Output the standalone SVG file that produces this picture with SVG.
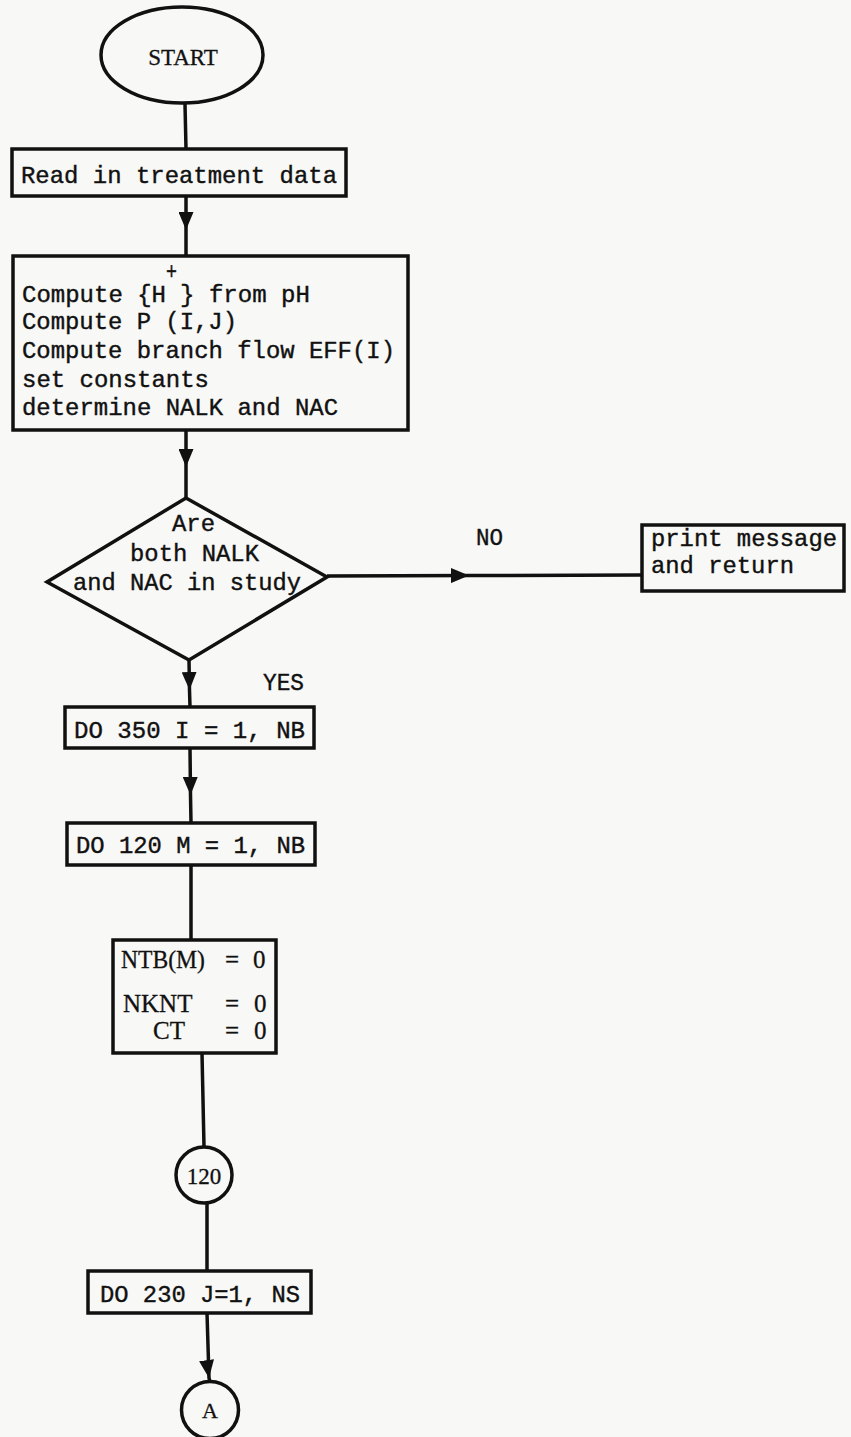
<svg xmlns="http://www.w3.org/2000/svg" width="851" height="1437" viewBox="0 0 851 1437">
<style>
.shape{fill:none;stroke:#111;stroke-width:3.5}
.conn{fill:none;stroke:#111;stroke-width:3.5}
.tw{font-family:"Liberation Mono","Courier New",monospace;font-size:24px;fill:#111;stroke:#111;stroke-width:0.4}
.sf{font-family:"Liberation Serif","Times New Roman",serif;fill:#111;stroke:#111;stroke-width:0.3}
</style>
<defs>
<marker id="ah" viewBox="0 0 18 15" refX="18" refY="7.5" markerWidth="18" markerHeight="15" markerUnits="userSpaceOnUse" orient="auto">
<path d="M0,0 L18,7.5 L0,15 z" fill="#111"/>
</marker>
</defs>
<rect x="0" y="0" width="851" height="1437" fill="#f8f8f6"/>

<g id="connectors">
<path class="conn" d="M185,104 L186,149"/>
<path class="conn" d="M186,196 L186,230 L186,256" marker-mid="url(#ah)"/>
<path class="conn" d="M186,430 L186,467 L186,498" marker-mid="url(#ah)"/>
<path class="conn" d="M327,576 L469,575.5 L642,575" marker-mid="url(#ah)"/>
<path class="conn" d="M189,660 L189.5,690 L190,707" marker-mid="url(#ah)"/>
<path class="conn" d="M190,748 L190.5,795 L191,823" marker-mid="url(#ah)"/>
<path class="conn" d="M191,865 L191,940"/>
<path class="conn" d="M202,1053 L204,1147"/>
<path class="conn" d="M207,1203 L207,1271"/>
<path class="conn" d="M207,1313 L209,1378 L210,1382" marker-mid="url(#ah)"/>
<text class="tw" x="476" y="545" textLength="27" lengthAdjust="spacingAndGlyphs">NO</text>
<text class="tw" x="263" y="690" textLength="41" lengthAdjust="spacingAndGlyphs">YES</text>
</g>

<g id="start">
<ellipse class="shape" cx="182" cy="55" rx="81" ry="48"/>
<text class="sf" x="183" y="65" font-size="23" text-anchor="middle">START</text>
</g>

<g id="read">
<rect class="shape" x="12" y="149" width="334" height="47"/>
<text class="tw" x="21" y="183" textLength="316" lengthAdjust="spacingAndGlyphs">Read in treatment data</text>
</g>

<g id="compute">
<rect class="shape" x="13" y="256" width="395" height="174"/>
<text class="tw" x="22" y="302" textLength="144" lengthAdjust="spacingAndGlyphs">Compute {H</text>
<text class="tw" x="166" y="279" font-size="18" textLength="11" lengthAdjust="spacingAndGlyphs">+</text>
<text class="tw" x="180" y="302" textLength="130" lengthAdjust="spacingAndGlyphs">} from pH</text>
<text class="tw" x="22" y="329" textLength="215" lengthAdjust="spacingAndGlyphs">Compute P (I,J)</text>
<text class="tw" x="22" y="358" textLength="373" lengthAdjust="spacingAndGlyphs">Compute branch flow EFF(I)</text>
<text class="tw" x="22" y="387" textLength="187" lengthAdjust="spacingAndGlyphs">set constants</text>
<text class="tw" x="22" y="415" textLength="316" lengthAdjust="spacingAndGlyphs">determine NALK and NAC</text>
</g>

<g id="decision">
<polygon class="shape" points="186,498 327,577 189,660 47,582"/>
<text class="tw" x="172" y="531" textLength="43" lengthAdjust="spacingAndGlyphs">Are</text>
<text class="tw" x="130" y="561" textLength="129" lengthAdjust="spacingAndGlyphs">both NALK</text>
<text class="tw" x="73" y="590" textLength="228" lengthAdjust="spacingAndGlyphs">and NAC in study</text>
</g>

<g id="print">
<rect class="shape" x="642" y="525" width="202" height="66"/>
<text class="tw" x="651" y="546" textLength="186" lengthAdjust="spacingAndGlyphs">print message</text>
<text class="tw" x="651" y="573" textLength="143" lengthAdjust="spacingAndGlyphs">and return</text>
</g>

<g id="do350">
<rect class="shape" x="65" y="707" width="249" height="41"/>
<text class="tw" x="74" y="738" textLength="231" lengthAdjust="spacingAndGlyphs">DO 350 I = 1, NB</text>
</g>

<g id="do120">
<rect class="shape" x="67" y="823" width="248" height="42"/>
<text class="tw" x="76" y="853" textLength="229" lengthAdjust="spacingAndGlyphs">DO 120 M = 1, NB</text>
</g>

<g id="init">
<rect class="shape" x="113" y="940" width="163" height="113"/>
<text class="sf" font-size="25" x="121" y="968" textLength="84" lengthAdjust="spacingAndGlyphs">NTB(M)</text>
<text class="sf" font-size="25" x="225" y="968">=</text>
<text class="sf" font-size="25" x="253" y="968">0</text>
<text class="sf" font-size="25" x="123" y="1012">NKNT</text>
<text class="sf" font-size="25" x="225" y="1012">=</text>
<text class="sf" font-size="25" x="254" y="1012">0</text>
<text class="sf" font-size="25" x="153" y="1039">CT</text>
<text class="sf" font-size="25" x="225" y="1039">=</text>
<text class="sf" font-size="25" x="254" y="1039">0</text>
</g>

<g id="c120">
<circle class="shape" cx="204" cy="1175" r="28"/>
<text class="sf" font-size="23" x="204" y="1184" text-anchor="middle">120</text>
</g>

<g id="do230">
<rect class="shape" x="88" y="1271" width="223" height="42"/>
<text class="tw" x="100" y="1302" textLength="200" lengthAdjust="spacingAndGlyphs">DO 230 J=1, NS</text>
</g>

<g id="connA">
<circle class="shape" cx="210" cy="1410" r="28.5"/>
<text class="sf" font-size="22" x="210" y="1418" text-anchor="middle">A</text>
</g>
</svg>
